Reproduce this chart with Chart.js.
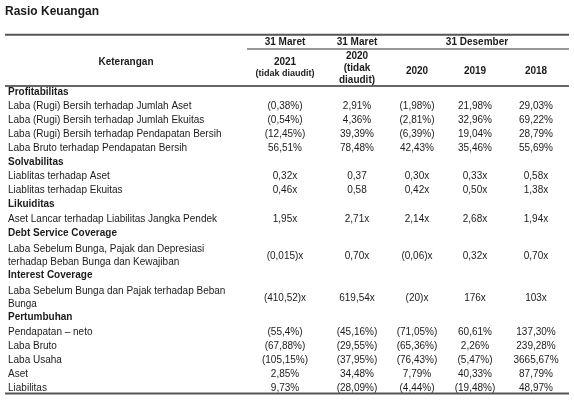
<!DOCTYPE html>
<html>
<head>
<meta charset="utf-8">
<script src="https://cdn.jsdelivr.net/npm/chart.js@4.4.1/dist/chart.umd.min.js"></script>
<style>
  html, body { margin: 0; padding: 0; background: #fff; }
  #wrap { width: 574px; height: 401px; }
</style>
</head>
<body>
<div id="wrap"><canvas id="rasio"></canvas></div>
<script>
// ---- data ----
const sectionTitles = ['Profitabilitas', 'Solvabilitas', 'Likuiditas', 'Debt Service Coverage', 'Interest Coverage', 'Pertumbuhan'];
const sectionRows = [
  ['Laba (Rugi) Bersih terhadap Jumlah Aset', 'Laba (Rugi) Bersih terhadap Jumlah Ekuitas', 'Laba (Rugi) Bersih terhadap Pendapatan Bersih', 'Laba Bruto terhadap Pendapatan Bersih'],
  ['Liablitas terhadap Aset', 'Liablitas terhadap Ekuitas'],
  ['Aset Lancar terhadap Liabilitas Jangka Pendek'],
  [['Laba Sebelum Bunga, Pajak dan Depresiasi', 'terhadap Beban Bunga dan Kewajiban']],
  [['Laba Sebelum Bunga dan Pajak terhadap Beban', 'Bunga']],
  ['Pendapatan \u2013 neto', 'Laba Bruto', 'Laba Usaha', 'Aset', 'Liabilitas']
];

const groupHeaders = ['31 Maret', '31 Maret', '31 Desember'];
const columnHeaders = [['2021', '(tidak diaudit)'], ['2020', '(tidak', 'diaudit)'], ['2020'], ['2019'], ['2018']];

const mar2021 = ['(0,38%)', '(0,54%)', '(12,45%)', '56,51%', '0,32x', '0,46x', '1,95x', '(0,015)x', '(410,52)x', '(55,4%)', '(67,88%)', '(105,15%)', '2,85%', '9,73%'];
const mar2020 = ['2,91%', '4,36%', '39,39%', '78,48%', '0,37', '0,58', '2,71x', '0,70x', '619,54x', '(45,16%)', '(29,55%)', '(37,95%)', '34,48%', '(28,09%)'];
const des2020 = ['(1,98%)', '(2,81%)', '(6,39%)', '42,43%', '0,30x', '0,42x', '2,14x', '(0,06)x', '(20)x', '(71,05%)', '(65,36%)', '(76,43%)', '7,79%', '(4,44%)'];
const des2019 = ['21,98%', '32,96%', '19,04%', '35,46%', '0,33x', '0,50x', '2,68x', '0,32x', '176x', '60,61%', '2,26%', '(5,47%)', '40,33%', '(19,48%)'];
const des2018 = ['29,03%', '69,22%', '28,79%', '55,69%', '0,58x', '1,38x', '1,94x', '0,70x', '103x', '137,30%', '239,28%', '3665,67%', '87,79%', '48,97%'];
const valueColumns = [mar2021, mar2020, des2020, des2019, des2018];

// ---- layout ----
const FONT = '"Liberation Sans", Arial, sans-serif';
const INK = '#1b1b1b';
const RULE = '#555';
const labelX = 8;
const colCenters = [285, 357, 417, 475, 536];
const tableLeft = 5, tableRight = 569, valuesLeft = 247;

// build row positions (in row units) from the structure
const labelCells = [];   // {y, text, bold}
const valueRows = [];    // y of each value row
let cursor = 0;
sectionTitles.forEach((title, s) => {
  labelCells.push({ y: cursor, text: title, bold: true });
  cursor += 1;
  sectionRows[s].forEach(r => {
    if (Array.isArray(r)) {
      labelCells.push({ y: cursor + 0.15, text: r[0], bold: false });
      labelCells.push({ y: cursor + 1.08, text: r[1], bold: false });
      valueRows.push(cursor + 0.62);
      cursor += 2;
    } else {
      labelCells.push({ y: cursor, text: r, bold: false });
      valueRows.push(cursor);
      cursor += 1;
    }
  });
});
const lastRow = cursor - 1;

const datasets = [{
  label: 'Keterangan',
  data: labelCells.map(c => ({ x: labelX, y: c.y })),
  cellText: labelCells.map(c => c.text),
  cellBold: labelCells.map(c => c.bold),
  align: 'left'
}];
valueColumns.forEach((col, i) => {
  datasets.push({
    label: columnHeaders[i].join(' '),
    data: valueRows.map(y => ({ x: colCenters[i], y: y })),
    cellText: col,
    cellBold: col.map(() => false),
    align: 'center'
  });
});
datasets.forEach(d => { d.pointRadius = 0; d.pointHoverRadius = 0; d.showLine = false; });

const tablePlugin = {
  id: 'tableCells',
  afterDatasetsDraw(chart) {
    const ctx = chart.ctx;
    const xs = chart.scales.x, ys = chart.scales.y;
    const px = v => xs.getPixelForValue(v);
    const py = v => ys.getPixelForValue(v);
    ctx.save();
    ctx.fillStyle = INK;
    ctx.textBaseline = 'middle';

    // cells
    chart.data.datasets.forEach((ds, i) => {
      const meta = chart.getDatasetMeta(i);
      ctx.textAlign = ds.align;
      meta.data.forEach((pt, j) => {
        ctx.font = (ds.cellBold[j] ? 'bold ' : '') + '10px ' + FONT;
        ctx.fillText(ds.cellText[j], pt.x, pt.y);
      });
    });

    // title
    ctx.textAlign = 'left';
    ctx.font = 'bold 12px ' + FONT;
    ctx.fillText('Rasio Keuangan', px(tableLeft), py(-5.65));

    // header
    ctx.font = 'bold 10px ' + FONT;
    ctx.textAlign = 'center';
    ctx.fillText('Keterangan', px((tableLeft + valuesLeft) / 2), py(-2.11));
    ctx.fillText(groupHeaders[0], px(colCenters[0]), py(-3.51));
    ctx.fillText(groupHeaders[1], px(colCenters[1]), py(-3.51));
    ctx.fillText(groupHeaders[2], px(colCenters[3] + 2), py(-3.51));
    // col 1
    ctx.fillText(columnHeaders[0][0], px(colCenters[0]), py(-2.09));
    ctx.font = 'bold 9px ' + FONT;
    ctx.fillText(columnHeaders[0][1], px(colCenters[0]), py(-1.28));
    ctx.font = 'bold 10px ' + FONT;
    // col 2
    [-2.54, -1.69, -0.84].forEach((y, k) => ctx.fillText(columnHeaders[1][k], px(colCenters[1]), py(y)));
    // cols 3-5
    for (let c = 2; c < 5; c++) ctx.fillText(columnHeaders[c][0], px(colCenters[c]), py(-1.47));

    // rules
    const rule = (x0, x1, y, w, col) => {
      ctx.beginPath();
      ctx.lineWidth = w;
      ctx.strokeStyle = col;
      ctx.moveTo(px(x0), py(y));
      ctx.lineTo(px(x1), py(y));
      ctx.stroke();
    };
    rule(tableLeft, tableRight, -4.04, 2, RULE);
    rule(valuesLeft, tableRight, -3.03, 1.2, '#333');
    rule(tableLeft, tableRight, -0.41, 1.5, '#333');
    rule(tableLeft, tableRight, lastRow + 0.37, 2, RULE);
    ctx.restore();
  }
};

new Chart(document.getElementById('rasio'), {
  type: 'scatter',
  data: { datasets: datasets },
  options: {
    responsive: true,
    maintainAspectRatio: false,
    animation: false,
    events: [],
    layout: { padding: 0 },
    plugins: { legend: { display: false }, tooltip: { enabled: false }, title: { display: false } },
    scales: {
      x: { type: 'linear', display: false, min: 0, max: 574 },
      y: { type: 'linear', display: false, min: -6.5, max: 21.9, reverse: true }
    }
  },
  plugins: [tablePlugin]
});
</script>
</body>
</html>
